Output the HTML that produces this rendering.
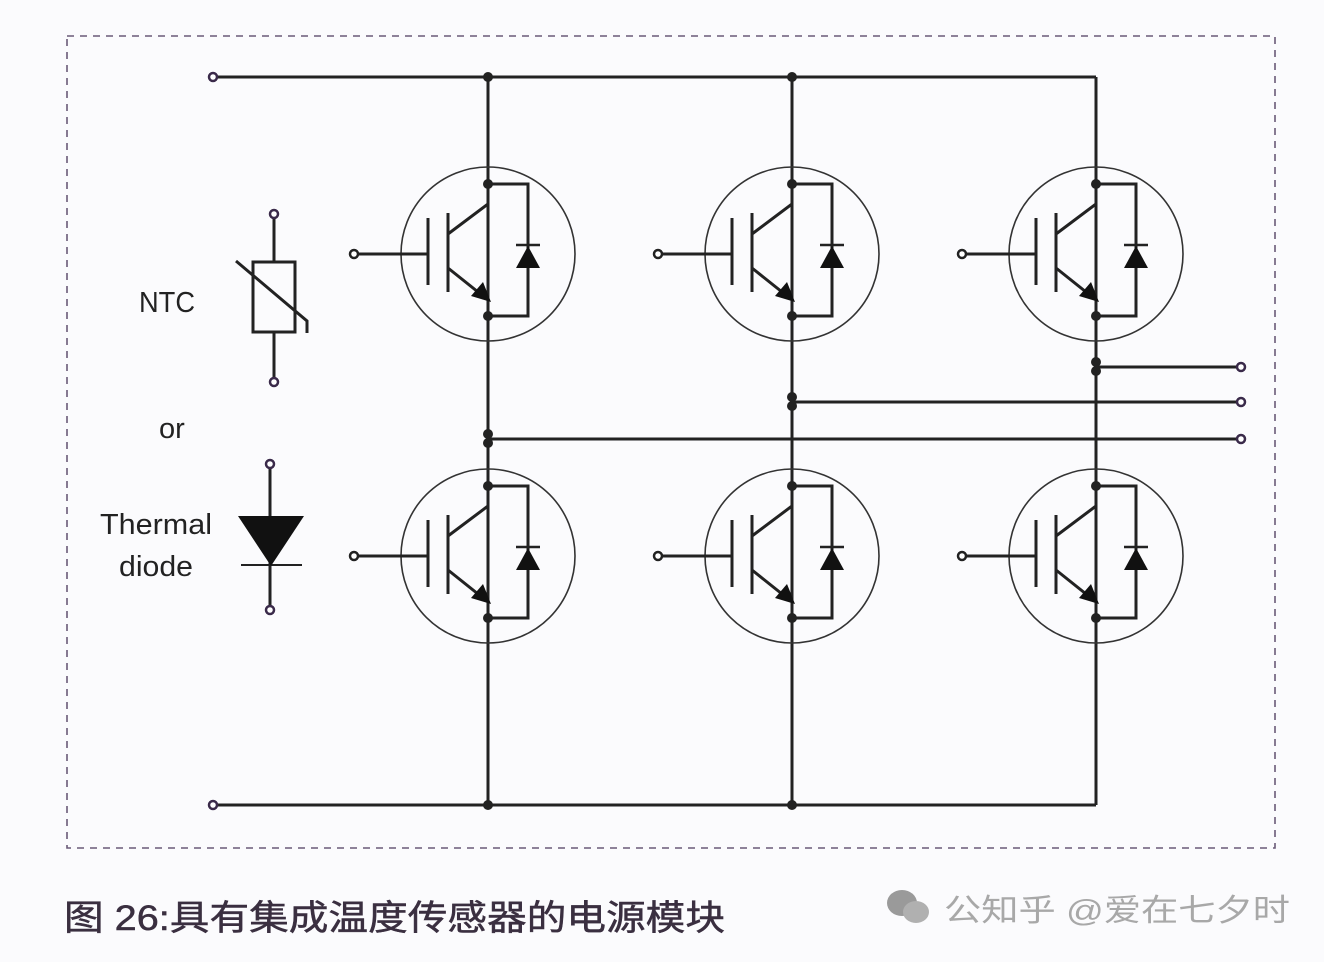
<!DOCTYPE html>
<html><head><meta charset="utf-8"><style>
body{margin:0;background:#fbfbfd;}
svg{display:block}
</style></head><body>
<svg width="1324" height="962" viewBox="0 0 1324 962" xmlns="http://www.w3.org/2000/svg">
<rect x="0" y="0" width="1324" height="962" fill="#fbfbfd"/>
<rect x="67" y="36" width="1208" height="812" fill="none" stroke="#6a5a78" stroke-width="1.6" stroke-dasharray="7,6"/>
<defs>
<g id="igbt">
 <circle cx="0" cy="0" r="87" fill="none" stroke="#333" stroke-width="1.6"/>
 <line x1="-134" y1="0" x2="-60" y2="0" stroke="#222" stroke-width="3"/>
 <circle cx="-134" cy="0" r="4" fill="#fff" stroke="#222" stroke-width="2.5"/>
 <line x1="-60" y1="-36" x2="-60" y2="31" stroke="#222" stroke-width="3"/>
 <line x1="-40" y1="-41" x2="-40" y2="38" stroke="#222" stroke-width="3"/>
 <polyline points="0,-70 0,-50 -40,-20" fill="none" stroke="#222" stroke-width="3"/>
 <polyline points="-40,14 0,46 0,62" fill="none" stroke="#222" stroke-width="3"/>
 <polygon points="3,48 -17,42 -5,28" fill="#111"/>
 <polyline points="0,-70 40,-70 40,62 0,62" fill="none" stroke="#222" stroke-width="3"/>
 <polygon points="28,14 52,14 40,-8" fill="#111"/>
 <line x1="28" y1="-9" x2="52" y2="-9" stroke="#222" stroke-width="2.5"/>
 <circle cx="0" cy="-70" r="5" fill="#222"/>
 <circle cx="0" cy="62" r="5" fill="#222"/>
</g>
</defs>
<g stroke="#222" stroke-width="3" fill="none">
 <line x1="213" y1="77" x2="1096" y2="77"/>
 <line x1="213" y1="805" x2="1096" y2="805"/>
 <line x1="488" y1="77" x2="488" y2="805"/>
 <line x1="792" y1="77" x2="792" y2="805"/>
 <line x1="1096" y1="77" x2="1096" y2="805"/>
 <line x1="1096" y1="367" x2="1240" y2="367"/>
 <line x1="792" y1="402" x2="1240" y2="402"/>
 <line x1="488" y1="439" x2="1240" y2="439"/>
</g>
<g fill="#222">
 <circle cx="488" cy="77" r="5"/><circle cx="792" cy="77" r="5"/>
 <circle cx="488" cy="805" r="5"/><circle cx="792" cy="805" r="5"/>
 <circle cx="1096" cy="362" r="5"/><circle cx="1096" cy="371" r="5"/>
 <circle cx="792" cy="397" r="5"/><circle cx="792" cy="406" r="5"/>
 <circle cx="488" cy="434" r="5"/><circle cx="488" cy="443" r="5"/>
</g>
<g fill="#fff" stroke="#3a2a4a" stroke-width="2.5">
 <circle cx="213" cy="77" r="4"/><circle cx="213" cy="805" r="4"/>
 <circle cx="1241" cy="367" r="4"/><circle cx="1241" cy="402" r="4"/><circle cx="1241" cy="439" r="4"/>
</g>
<use href="#igbt" x="488" y="254"/>
<use href="#igbt" x="792" y="254"/>
<use href="#igbt" x="1096" y="254"/>
<use href="#igbt" x="488" y="556"/>
<use href="#igbt" x="792" y="556"/>
<use href="#igbt" x="1096" y="556"/>
<g stroke="#222" stroke-width="3" fill="none">
 <line x1="274" y1="215" x2="274" y2="262"/>
 <rect x="253" y="262" width="42" height="70"/>
 <line x1="274" y1="332" x2="274" y2="381"/>
 <polyline points="236,261 307,321 307,333"/>
 <line x1="270" y1="464" x2="270" y2="610"/>
 <line x1="241" y1="565" x2="302" y2="565" stroke-width="2"/>
</g>
<polygon points="238,516 304,516 271,566" fill="#111"/>
<g fill="#fff" stroke="#3a2a4a" stroke-width="2.5">
 <circle cx="274" cy="214" r="4"/><circle cx="274" cy="382" r="4"/>
 <circle cx="270" cy="464" r="4"/><circle cx="270" cy="610" r="4"/>
</g>
<g font-family="'Liberation Sans',sans-serif" font-size="29" fill="#222">
 <text x="139" y="312" textLength="56" lengthAdjust="spacingAndGlyphs">NTC</text>
 <text x="159" y="438">or</text>
 <text x="100" y="534" textLength="112" lengthAdjust="spacingAndGlyphs">Thermal</text>
 <text x="119" y="576" textLength="74" lengthAdjust="spacingAndGlyphs">diode</text>
</g>
<text x="64" y="930" textLength="661" lengthAdjust="spacingAndGlyphs" font-family="'Liberation Sans','Noto Sans CJK SC',sans-serif" font-size="35" fill="#3a2f40" stroke="#3a2f40" stroke-width="0.5">图 26:具有集成温度传感器的电源模块</text>
<g fill="#9a9a9a">
 <ellipse cx="902" cy="903" rx="15" ry="13"/>
 <ellipse cx="916" cy="912" rx="13" ry="11" fill="#b0b0b0"/>
</g>
<text x="944" y="921" textLength="346" lengthAdjust="spacingAndGlyphs" font-family="'Liberation Sans','Noto Sans CJK SC',sans-serif" font-size="31" fill="#a8a8a8">公知乎 @爱在七夕时</text>
</svg>
</body></html>
